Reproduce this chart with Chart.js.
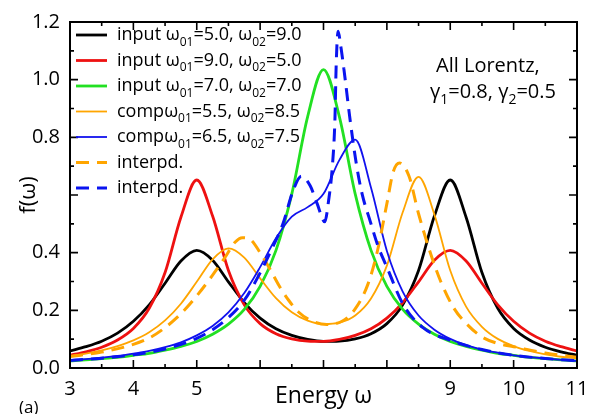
<!DOCTYPE html>
<html>
<head>
<meta charset="utf-8">
<script src="https://cdn.jsdelivr.net/npm/chart.js@4.4.0/dist/chart.umd.min.js"></script>
<style>
  html, body { margin: 0; padding: 0; background: #fff; }
  #wrap { width: 599px; height: 414px; }
</style>
</head>
<body>
<div id="wrap"><canvas id="chart" width="599" height="414"></canvas></div>
<script>
// energy grid shared by the input / comp curves
const energy = [3, 3.25, 3.5, 3.75, 4, 4.25, 4.5, 4.75, 5, 5.25, 5.5, 5.75, 6, 6.25, 6.5, 6.75, 7,
  7.25, 7.5, 7.75, 8, 8.25, 8.5, 8.75, 9, 9.25, 9.5, 9.75, 10, 10.25, 10.5, 10.75, 11];

const input59 = [0.059, 0.074, 0.093, 0.121, 0.162, 0.219, 0.294, 0.371, 0.408, 0.374, 0.299, 0.227, 0.173,
  0.136, 0.113, 0.099, 0.092, 0.093, 0.101, 0.119, 0.154, 0.219, 0.338, 0.527, 0.652, 0.523, 0.331, 0.207,
  0.137, 0.097, 0.072, 0.056, 0.044];
const input95 = [0.044, 0.056, 0.072, 0.097, 0.137, 0.207, 0.331, 0.523, 0.652, 0.527, 0.338, 0.219, 0.154,
  0.119, 0.101, 0.093, 0.092, 0.099, 0.113, 0.136, 0.173, 0.227, 0.299, 0.374, 0.408, 0.371, 0.294, 0.219,
  0.162, 0.121, 0.093, 0.074, 0.059];
const input77 = [0.025, 0.028, 0.033, 0.037, 0.044, 0.051, 0.062, 0.075, 0.092, 0.117, 0.152, 0.203, 0.283,
  0.408, 0.604, 0.872, 1.035, 0.872, 0.604, 0.408, 0.283, 0.203, 0.152, 0.117, 0.092, 0.075, 0.062, 0.051,
  0.044, 0.037, 0.033, 0.028, 0.025];
const comp5585 = [0.042, 0.050, 0.061, 0.076, 0.096, 0.124, 0.165, 0.223, 0.299, 0.377, 0.415, 0.383, 0.311,
  0.242, 0.193, 0.164, 0.152, 0.157, 0.182, 0.241, 0.355, 0.540, 0.663, 0.532, 0.338, 0.213, 0.143, 0.101,
  0.076, 0.059, 0.047, 0.039, 0.033];
const comp6575 = [0.028, 0.031, 0.036, 0.042, 0.050, 0.059, 0.072, 0.089, 0.113, 0.146, 0.193, 0.260, 0.350,
  0.450, 0.525, 0.558, 0.604, 0.721, 0.792, 0.625, 0.406, 0.265, 0.182, 0.133, 0.101, 0.079, 0.064, 0.053,
  0.044, 0.038, 0.033, 0.028, 0.025];

// interpolated curves, read on their own energy points
const interpOrangeE = [3, 3.5, 4, 4.25, 4.5, 4.75, 5, 5.25, 5.45, 5.6, 5.72, 5.85, 6, 6.15, 6.3, 6.45, 6.6,
  6.8, 7.05, 7.3, 7.5, 7.7, 7.85, 8, 8.1, 8.2, 8.35, 8.5, 8.7, 8.85, 9.05, 9.25, 9.5, 9.75, 10, 10.5, 11];
const interpOrange = [0.040, 0.055, 0.082, 0.104, 0.140, 0.188, 0.250, 0.322, 0.385, 0.435, 0.452, 0.445,
  0.400, 0.345, 0.285, 0.235, 0.195, 0.165, 0.151, 0.163, 0.205, 0.290, 0.405, 0.570, 0.680, 0.711, 0.665,
  0.535, 0.390, 0.300, 0.210, 0.155, 0.108, 0.085, 0.074, 0.052, 0.037];
const interpBlueE = [3, 3.5, 4, 4.5, 5, 5.25, 5.5, 5.75, 6, 6.2, 6.36, 6.52, 6.65, 6.79, 6.9, 7.02, 7.08,
  7.14, 7.18, 7.2, 7.23, 7.27, 7.32, 7.42, 7.52, 7.61, 7.74, 7.86, 8, 8.26, 8.57, 9, 9.5, 10, 10.5, 11];
const interpBlue = [0.026, 0.034, 0.046, 0.066, 0.103, 0.133, 0.175, 0.235, 0.330, 0.420, 0.500, 0.615,
  0.665, 0.632, 0.570, 0.507, 0.580, 0.700, 0.860, 1.050, 1.168, 1.120, 1.040, 0.860, 0.705, 0.603, 0.507,
  0.423, 0.350, 0.219, 0.140, 0.096, 0.064, 0.044, 0.033, 0.025];

// legend names, {..} = subscript
const seriesNames = [
  "input ω{01}=5.0, ω{02}=9.0",
  "input ω{01}=9.0, ω{02}=5.0",
  "input ω{01}=7.0, ω{02}=7.0",
  "compω{01}=5.5, ω{02}=8.5",
  "compω{01}=6.5, ω{02}=7.5",
  "interpd.",
  "interpd."
];
const noteLines = ["All Lorentz,", "γ{1}=0.8, γ{2}=0.5"];
const xTickLabels = [3, 4, 5, 9, 10, 11];
const yTickLabels = ["0.0", "0.2", "0.4", "0.8", "1.0", "1.2"];

const FONT = "'Open Sans', 'DejaVu Sans', sans-serif";

function points(xs, ys) {
  return xs.map((x, i) => ({ x, y: ys[i] }));
}

function plain(text) {
  return text.replace(/[{}]/g, "");
}

// text with {sub} parts drawn smaller and lower
function drawRich(ctx, text, x, y, size) {
  text.split(/(\{[^}]*\})/).forEach(p => {
    if (!p) return;
    const sub = p[0] === "{";
    const t = sub ? p.slice(1, -1) : p;
    ctx.font = (sub ? Math.round(size * 0.68) : size) + "px " + FONT;
    ctx.fillText(t, x, sub ? y + size * 0.32 : y);
    x += ctx.measureText(t).width;
  });
}

const series = [
  { data: points(energy, input59), color: "#000000", width: 2.8, dash: [] },
  { data: points(energy, input95), color: "#ee1111", width: 2.8, dash: [] },
  { data: points(energy, input77), color: "#22e022", width: 2.8, dash: [] },
  { data: points(energy, comp5585), color: "#ffa500", width: 1.8, dash: [] },
  { data: points(energy, comp6575), color: "#1111ee", width: 1.8, dash: [] },
  { data: points(interpOrangeE, interpOrange), color: "#ffa500", width: 3, dash: [13, 8] },
  { data: points(interpBlueE, interpBlue), color: "#0a14f0", width: 3, dash: [13, 8] }
];

const frameTicks = {
  id: "frameTicks",
  afterDatasetsDraw(chart) {
    const { ctx, chartArea: a, scales: { x, y } } = chart;
    ctx.save();
    ctx.strokeStyle = "#000";
    ctx.lineWidth = 1.6;
    ctx.beginPath();
    for (let v = 3; v <= 11.001; v += 0.5) {
      const px = x.getPixelForValue(v);
      const len = Number.isInteger(v) ? 8 : 4;
      ctx.moveTo(px, a.bottom); ctx.lineTo(px, a.bottom - len);
      ctx.moveTo(px, a.top); ctx.lineTo(px, a.top + len);
    }
    for (let k = 0; k <= 12; k++) {
      const py = y.getPixelForValue(k / 10);
      const len = k % 2 === 0 ? 8 : 4;
      ctx.moveTo(a.left, py); ctx.lineTo(a.left + len, py);
      ctx.moveTo(a.right, py); ctx.lineTo(a.right - len, py);
    }
    ctx.stroke();
    ctx.lineWidth = 2;
    ctx.strokeRect(a.left, a.top, a.right - a.left, a.bottom - a.top);
    ctx.restore();
  },
  afterDraw(chart) {
    const { ctx } = chart;
    ctx.save();
    ctx.fillStyle = "#000";
    ctx.textBaseline = "alphabetic";
    // legend
    series.forEach((s, i) => {
      const yc = 35 + i * 25.5;
      ctx.save();
      ctx.strokeStyle = s.color;
      ctx.lineWidth = s.width;
      ctx.setLineDash(s.dash);
      ctx.beginPath();
      ctx.moveTo(76, yc);
      ctx.lineTo(107, yc);
      ctx.stroke();
      ctx.restore();
      drawRich(ctx, seriesNames[i], 117, yc + 5, 18);
    });
    // note
    drawRich(ctx, noteLines[0], 436, 72, 20);
    drawRich(ctx, noteLines[1], 430, 98, 20);
    // panel tag
    ctx.font = "17px " + FONT;
    ctx.fillText("(a)", 19, 413);
    ctx.restore();
  }
};

new Chart(document.getElementById("chart"), {
  type: "line",
  data: {
    datasets: series.map((s, i) => ({
      label: plain(seriesNames[i]),
      data: s.data,
      borderColor: s.color,
      borderWidth: s.width,
      borderDash: s.dash,
      pointRadius: 0,
      fill: false,
      cubicInterpolationMode: "monotone",
      order: series.length - i
    }))
  },
  options: {
    responsive: false,
    animation: false,
    layout: { padding: { top: 14, right: 22, left: 0, bottom: 0 } },
    plugins: { legend: { display: false }, tooltip: { enabled: false } },
    scales: {
      x: {
        type: "linear",
        min: 3,
        max: 11,
        afterFit: s => { s.height = 46; },
        grid: { display: false, drawTicks: false },
        border: { display: false },
        ticks: {
          stepSize: 1,
          padding: 9,
          color: "#000",
          font: { family: FONT, size: 20 },
          maxRotation: 0,
          callback: v => (xTickLabels.includes(v) ? String(v) : "")
        },
        title: {
          display: true,
          text: "Energy ω",
          color: "#000",
          font: { family: FONT, size: 23 },
          padding: { top: 0, bottom: 4 }
        }
      },
      y: {
        min: 0,
        max: 1.2,
        afterFit: s => { s.width = 70; },
        grid: { display: false, drawTicks: false },
        border: { display: false },
        ticks: {
          stepSize: 0.2,
          padding: 10,
          color: "#000",
          font: { family: FONT, size: 20 },
          callback: v => {
            const t = v.toFixed(1);
            return yTickLabels.includes(t) ? t : "";
          }
        },
        title: {
          display: true,
          text: "f(ω)",
          color: "#000",
          font: { family: FONT, size: 22 },
          padding: { top: 16, bottom: 0 }
        }
      }
    }
  },
  plugins: [frameTicks]
});
</script>
</body>
</html>
